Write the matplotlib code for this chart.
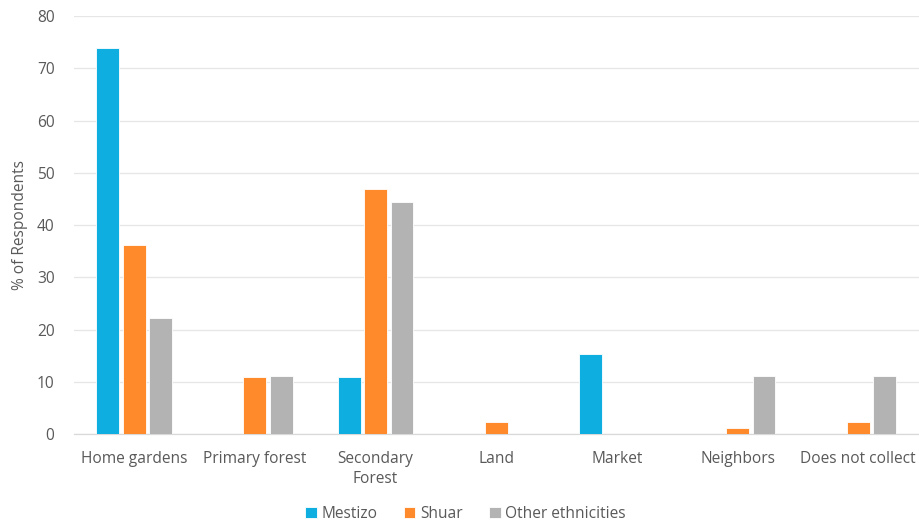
import numpy as np
import matplotlib
matplotlib.use("Agg")
import matplotlib.pyplot as plt

plt.rcParams['font.family'] = ['Open Sans', 'DejaVu Sans']

categories = ["Home gardens", "Primary forest", "Secondary\nForest", "Land",
              "Market", "Neighbors", "Does not collect"]
mestizo = [73.9, 0, 10.9, 0, 15.3, 0, 0]
shuar = [36.2, 10.9, 46.9, 2.3, 0, 1.1, 2.3]
other = [22.2, 11.1, 44.4, 0, 0, 11.1, 11.1]
series_names = ["Mestizo", "Shuar", "Other ethnicities"]
colors = ["#0EAFE0", "#FF8A2B", "#B3B3B3"]
yticks = [0, 10, 20, 30, 40, 50, 60, 70, 80]

fig = plt.figure(figsize=(9.2, 5.22), dpi=100)
ax = fig.add_axes([0.0804, 0.1686, 0.918, 0.8004])

x = np.arange(len(categories))
step = 0.219
width = 0.19
for i, (vals, name, c) in enumerate(zip([mestizo, shuar, other], series_names, colors)):
    ax.bar(x + (i - 1) * step, vals, width=width, color=c, edgecolor="white",
           linewidth=0.6, label=name, zorder=3)

ax.set_xlim(-0.5, len(categories) - 0.5)
ax.set_ylim(0, 80)
ax.set_yticks(yticks)
ax.set_xticks(x)
ax.set_xticklabels(categories, linespacing=1.3)
ax.grid(axis="y", color="#E6E6E6", linewidth=0.9, zorder=0)
for s in ["top", "right", "left"]:
    ax.spines[s].set_visible(False)
ax.spines["bottom"].set_color("#D9D9D9")
ax.spines["bottom"].set_linewidth(0.9)
ax.tick_params(axis="both", length=0, labelcolor="#595959", labelsize=11.2)
ax.tick_params(axis="x", pad=12.5)
ax.tick_params(axis="y", pad=14)
ax.set_ylabel("% of Respondents", color="#595959", fontsize=11.2, labelpad=6)

fig.legend(loc="lower center", bbox_to_anchor=(0.506, -0.027), ncol=3, frameon=False,
           fontsize=11.2, handlelength=0.75, handleheight=0.75, handletextpad=0.3,
           columnspacing=1.7, labelcolor="#595959")

fig.savefig("out.png", dpi=100, facecolor="white")
